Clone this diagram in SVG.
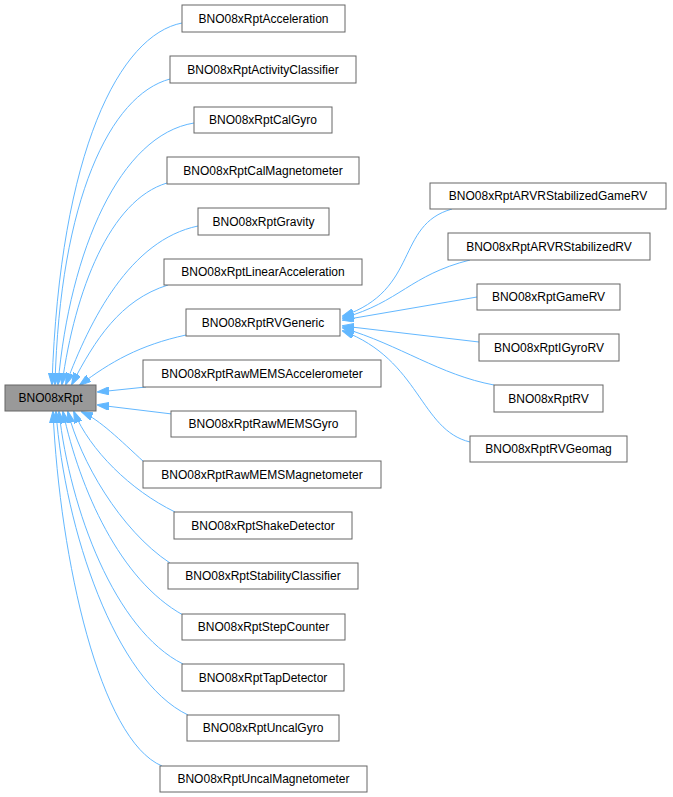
<svg xmlns="http://www.w3.org/2000/svg" width="673" height="797" viewBox="0 0 673 797">
<defs>
<marker id="a" viewBox="0 0 12 8" refX="11" refY="4" markerWidth="12" markerHeight="8" markerUnits="userSpaceOnUse" orient="auto"><path d="M0,0 L12,4 L0,8 z" fill="#63b8ff" stroke="#63b8ff"/></marker>
<style>
.n rect{fill:#fff;stroke:#666;stroke-width:1}
.n text{font-family:"Liberation Sans",Arial,sans-serif;font-size:12px;fill:#000;text-anchor:middle}
#edges path{fill:none;stroke:#63b8ff;stroke-width:1;marker-end:url(#a)}
</style>
</defs>
<rect width="673" height="797" fill="#fff"/>
<g id="edges">
<path d="M182,23 C120,35 60,150 52,384"/>
<path d="M170,79 C110,95 60,200 55,384"/>
<path d="M194,123 C120,135 70,250 58,384"/>
<path d="M167,183 C110,200 75,290 62,384"/>
<path d="M198,226 C130,240 90,320 66,384"/>
<path d="M168,285 C120,300 95,340 72,384"/>
<path d="M186,335 C140,345 110,362 80,385"/>
<path d="M146,387 L98,392"/>
<path d="M172,414 L98,405"/>
<path d="M144,462 C120,440 100,420 82,412"/>
<path d="M175,512 C130,490 90,450 74,412"/>
<path d="M170,563 C120,530 80,460 68,412"/>
<path d="M183,615 C120,580 80,490 63,412"/>
<path d="M183,664 C115,630 70,510 59,412"/>
<path d="M188,715 C115,680 65,530 56,412"/>
<path d="M162,766 C100,740 60,560 53,412"/>
<path d="M452,209 C395,225 420,290 343,316"/>
<path d="M470,260 C410,275 400,302 343,318"/>
<path d="M477,297 L343,320"/>
<path d="M479,342 L343,326"/>
<path d="M494,385 C440,375 400,345 343,328"/>
<path d="M470,442 C420,430 420,360 343,331"/>
</g>
<g id="n0" class="n"><rect x="5" y="385" width="91" height="26" style="fill:#999"/><text x="50.5" y="402">BNO08xRpt</text></g>
<g id="n1" class="n"><rect x="182" y="5" width="163" height="27"/><text x="263.5" y="23">BNO08xRptAcceleration</text></g>
<g id="n2" class="n"><rect x="170" y="56" width="186" height="27"/><text x="263" y="74">BNO08xRptActivityClassifier</text></g>
<g id="n3" class="n"><rect x="194" y="107" width="138" height="26"/><text x="263" y="124">BNO08xRptCalGyro</text></g>
<g id="n4" class="n"><rect x="167" y="157" width="192" height="27"/><text x="263" y="175">BNO08xRptCalMagnetometer</text></g>
<g id="n5" class="n"><rect x="198" y="208" width="131" height="27"/><text x="263.5" y="226">BNO08xRptGravity</text></g>
<g id="n6" class="n"><rect x="164" y="259" width="198" height="26"/><text x="263" y="276">BNO08xRptLinearAcceleration</text></g>
<g id="n7" class="n"><rect x="186" y="309" width="154" height="27"/><text x="263" y="327">BNO08xRptRVGeneric</text></g>
<g id="n8" class="n"><rect x="143" y="360" width="238" height="27"/><text x="262" y="378">BNO08xRptRawMEMSAccelerometer</text></g>
<g id="n9" class="n"><rect x="171" y="411" width="185" height="26"/><text x="263.5" y="428">BNO08xRptRawMEMSGyro</text></g>
<g id="n10" class="n"><rect x="143" y="461" width="238" height="27"/><text x="262" y="479">BNO08xRptRawMEMSMagnetometer</text></g>
<g id="n11" class="n"><rect x="174" y="512" width="178" height="27"/><text x="263" y="530">BNO08xRptShakeDetector</text></g>
<g id="n12" class="n"><rect x="168" y="563" width="190" height="26"/><text x="263" y="580">BNO08xRptStabilityClassifier</text></g>
<g id="n13" class="n"><rect x="182" y="614" width="163" height="26"/><text x="263.5" y="631">BNO08xRptStepCounter</text></g>
<g id="n14" class="n"><rect x="182" y="664" width="162" height="27"/><text x="263" y="682">BNO08xRptTapDetector</text></g>
<g id="n15" class="n"><rect x="187" y="715" width="152" height="26"/><text x="263" y="732">BNO08xRptUncalGyro</text></g>
<g id="n16" class="n"><rect x="160" y="766" width="207" height="26"/><text x="263.5" y="783">BNO08xRptUncalMagnetometer</text></g>
<g id="n17" class="n"><rect x="430" y="183" width="236" height="26"/><text x="548" y="200">BNO08xRptARVRStabilizedGameRV</text></g>
<g id="n18" class="n"><rect x="448" y="233" width="202" height="27"/><text x="549" y="251">BNO08xRptARVRStabilizedRV</text></g>
<g id="n19" class="n"><rect x="477" y="284" width="143" height="26"/><text x="548.5" y="301">BNO08xRptGameRV</text></g>
<g id="n20" class="n"><rect x="479" y="334" width="140" height="27"/><text x="549" y="352">BNO08xRptIGyroRV</text></g>
<g id="n21" class="n"><rect x="494" y="385" width="109" height="27"/><text x="548.5" y="403">BNO08xRptRV</text></g>
<g id="n22" class="n"><rect x="470" y="436" width="157" height="26"/><text x="548.5" y="453">BNO08xRptRVGeomag</text></g>
</svg>
